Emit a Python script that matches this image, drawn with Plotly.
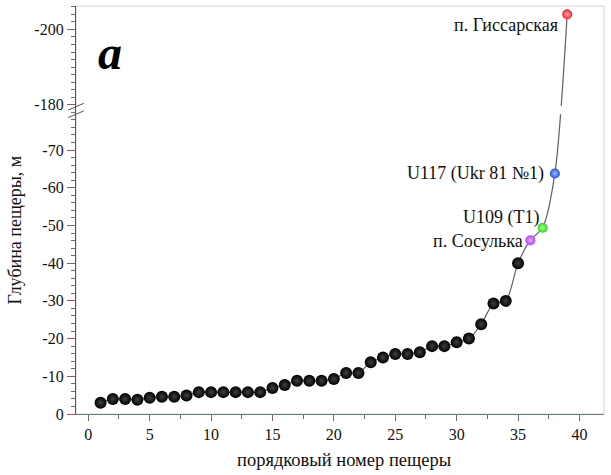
import plotly.graph_objects as go

# ---- data ----
cave_no = list(range(1, 40))
depth_m = [-3, -4, -4, -3.8, -4.3, -4.6, -4.6, -4.9, -5.8, -5.8,
           -5.8, -5.8, -5.8, -5.8, -6.9, -7.7, -8.8, -8.8, -8.8, -9.3,
           -10.9, -10.9, -13.7, -15.0, -15.9, -15.9, -16.4, -18.0, -18.0, -19.0,
           -20.0, -23.8, -29.3, -30.0, -40.0, -46.1, -49.4, -63.8, -204]
named_caves = ["п. Сосулька", "U109 (T1)", "U117 (Ukr 81 №1)", "п. Гиссарская"]
named_idx = [36, 37, 38, 39]
named_colors = ["#b040ff", "#22dd11", "#1a50ff", "#ff1a2a"]
named_centers = ["#e6b0ff", "#b8ffa0", "#a8c0ff", "#ffb0b0"]
label_shift = [(-5, -1), (-2, 10), (-9, 0), (-7, -11)]

lower_ticks = [0, -10, -20, -30, -40, -50, -60, -70]
upper_ticks = [-180, -200]

# broken axis: depths beyond the break are shifted down by OFFSET
BREAK = 80
OFFSET = 98


def tr(v):
    d = -v
    return d if d <= BREAK else d - OFFSET


y_plot = [tr(v) for v in depth_m]
tickvals = [tr(v) for v in lower_ticks + upper_ticks]
ticktext = [str(v) for v in lower_ticks + upper_ticks]

SERIF = "Liberation Serif"
fig = go.Figure()

# connecting curve
fig.add_trace(go.Scatter(x=cave_no, y=y_plot, mode="lines",
                         line=dict(color="#6b5a5a", width=1.2, shape="spline", smoothing=0.8),
                         hoverinfo="skip", showlegend=False))

# black spheres
black_x = [x for x in cave_no if x not in named_idx]
black_y = [y_plot[x - 1] for x in black_x]
fig.add_trace(go.Scatter(x=black_x, y=black_y, mode="markers",
                         marker=dict(color="#000000", size=12,
                                     gradient=dict(type="radial", color="#404040"),
                                     line=dict(width=0)),
                         cliponaxis=False, showlegend=False))

# coloured spheres
for name, i, c, cc, (dx, dy) in zip(named_caves, named_idx, named_colors, named_centers, label_shift):
    fig.add_trace(go.Scatter(x=[i], y=[y_plot[i - 1]], mode="markers",
                             marker=dict(color=c, size=10,
                                         gradient=dict(type="radial", color=cc),
                                         line=dict(width=0)),
                             cliponaxis=False, showlegend=False))
    fig.add_annotation(x=i, y=y_plot[i - 1], text=name, showarrow=False,
                       xanchor="right", yanchor="middle", xshift=dx, yshift=dy,
                       font=dict(family=SERIF, size=18, color="#111"))

# gap in the curve at the break
fig.add_shape(type="rect", x0=cave_no[-2] + 0.3, x1=cave_no[-1], y0=BREAK - 0.5, y1=BREAK + 1.7,
              xref="x", yref="y", fillcolor="white", line=dict(width=0), layer="above")

# frame
fig.add_shape(type="rect", x0=0, x1=1, y0=0, y1=1, xref="paper", yref="paper",
              line=dict(color="#d4d4d4", width=1), layer="below")

# break marks on the y axis
for dy in (-1.0, 1.0):
    fig.add_shape(type="line", xref="paper", yref="y",
                  x0=-0.015, x1=0.015, y0=BREAK + 0.5 + dy - 0.9, y1=BREAK + 0.5 + dy + 0.9,
                  line=dict(color="#555", width=1))

# panel letter and axis titles
fig.add_annotation(x=0.064, y=0.887, xref="paper", yref="paper", text="a", showarrow=False,
                   xanchor="center", yanchor="middle",
                   font=dict(family=SERIF, size=48, color="#000", style="italic", weight="bold"))
fig.add_annotation(x=-0.1155, y=0.45, xref="paper", yref="paper", text="Глубина пещеры, м",
                   xanchor="center", yanchor="middle",
                   textangle=-90, showarrow=False, font=dict(family=SERIF, size=18, color="#111"))
fig.add_annotation(x=0.508, y=-0.113, xref="paper", yref="paper", text="порядковый номер пещеры",
                   xanchor="center", yanchor="middle",
                   showarrow=False, font=dict(family=SERIF, size=18.5, color="#111"))

fig.update_xaxes(range=[-1, 42], showgrid=False, zeroline=False, automargin=False,
                 showline=True, linecolor="#6f7c7c", linewidth=1.2,
                 ticks="outside", ticklen=6, tickcolor="#8a6060", dtick=5, tick0=0,
                 minor=dict(ticks="outside", ticklen=4, dtick=2.5, tickcolor="#8a6060"),
                 tickfont=dict(family=SERIF, size=16, color="#111"))
fig.update_yaxes(range=[0, 108.2], showgrid=False, zeroline=False, automargin=False,
                 showline=True, linecolor="#555", linewidth=1.2,
                 tickmode="array", tickvals=tickvals, ticktext=ticktext,
                 ticks="outside", ticklen=8, tickcolor="#8a6060",
                 minor=dict(ticks="outside", ticklen=4, dtick=2, tick0=0, tickcolor="#8a6060"),
                 tickfont=dict(family=SERIF, size=16, color="#111"))

fig.update_layout(width=611, height=475, margin=dict(l=76, r=7, t=6, b=61),
                  plot_bgcolor="white", paper_bgcolor="white", showlegend=False)

fig.write_html("out.html", config={"displayModeBar": False},
               post_script="document.body.style.margin='0px';")
